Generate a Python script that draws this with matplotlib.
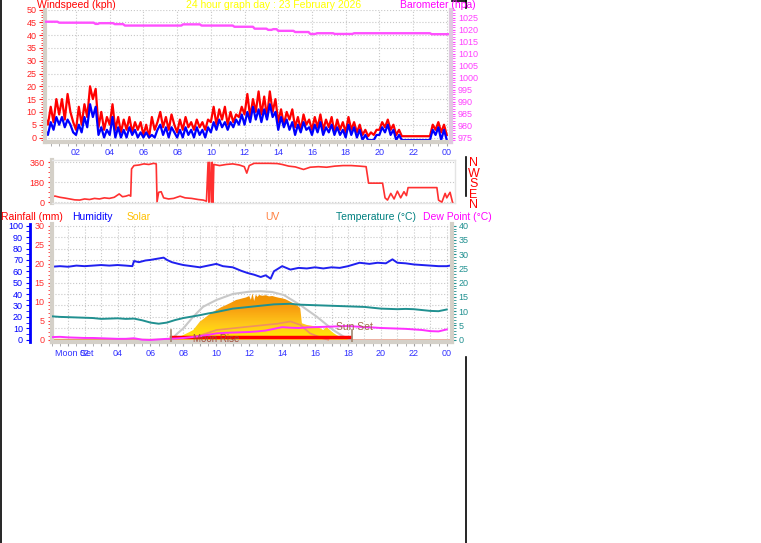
import numpy as np
import matplotlib.pyplot as plt
from matplotlib.colors import LinearSegmentedColormap
from matplotlib.lines import Line2D
from matplotlib.ticker import MultipleLocator

plt.rcParams['font.family'] = ['Liberation Sans', 'DejaVu Sans']

W, H = 761, 543

# ---- wind (kph), 10 minute samples from 00:00 ----
wind_t = np.arange(145) / 6.0
gust = [3, 8, 5, 12, 6, 15,
        9, 15, 7, 17, 10, 6,
        3, 12, 5, 13, 8, 20,
        15, 19, 4, 10, 3, 8,
        5, 13, 3, 8, 2, 7,
        3, 8, 2, 6, 3, 6,
        1, 5, 0, 8, 3, 6,
        10, 4, 8, 3, 9, 5,
        2, 7, 3, 8, 4, 6,
        3, 7, 4, 6, 3, 7,
        6, 12, 5, 11, 7, 12,
        5, 10, 6, 9, 8, 12,
        9, 17, 8, 15, 10, 18,
        9, 16, 8, 18, 10, 15,
        6, 11, 5, 10, 7, 11,
        4, 8, 3, 9, 5, 7,
        3, 8, 4, 9, 3, 7,
        4, 8, 2, 7, 3, 6,
        2, 8, 3, 6, 2, 5,
        1, 3, 0.5, 2, 1, 3,
        3, 6, 4, 7, 3, 5,
        1, 3, 0.5, 0.5, 0.5, 0.5,
        0.5, 0.5, 0.5, 0.5, 0.5, 0.5,
        0.5, 5, 3, 6, 2, 5,
        1]
avg = [0, 3, 1, 6, 3, 8,
       5, 8, 4, 7, 5, 2,
       1, 5, 2, 8, 4, 13,
       8, 12, 1, 4, 0, 3,
       1, 8, 0, 4, 0, 3,
       0, 4, 1, 3, 0, 2,
       0, 2, 0, 1, 0, 3,
       5, 1, 4, 0, 4, 2,
       0, 3, 0, 4, 1, 3,
       0, 4, 1, 3, 0, 4,
       2, 6, 3, 7, 4, 6,
       3, 6, 4, 7, 5, 9,
       5, 10, 6, 12, 7, 11,
       6, 11, 7, 13, 8, 10,
       3, 8, 4, 7, 3, 6,
       1, 5, 2, 6, 3, 4,
       1, 5, 2, 6, 1, 4,
       2, 5, 1, 4, 1, 3,
       0, 5, 1, 4, 0, 3,
       -1, 1, -1, -1, -1, 1,
       1, 4, 2, 5, 1, 3,
       -1, 1, -1, -1, -1, -1,
       -1, -1, -1, -1, -1, -1,
       -1, 3, 1, 4, -1, 3,
       -1]

# ---- barometer (hPa) ----
baro_t = [0.0, 0.9, 1.0, 3.05, 3.15, 3.3, 3.4, 4.2, 4.3, 4.8, 4.9, 8.25, 8.35, 9.35, 9.45,
          11.3, 11.4, 12.5, 12.6, 13.3, 13.4, 13.6, 13.7, 13.9, 14.0, 14.9, 15.0, 15.8,
          15.9, 16.2, 16.3, 17.25, 17.35, 18.4, 18.5, 23.0, 23.1, 24.3]
baro = [1023.3, 1023.3, 1022.9, 1022.9, 1022.4, 1022.4, 1022.7, 1022.7, 1022.3, 1022.3,
        1021.7, 1021.7, 1022.2, 1022.2, 1021.7, 1021.7, 1021.2, 1021.2, 1020.4, 1020.4,
        1019.9, 1019.9, 1020.2, 1020.2, 1019.5, 1019.5, 1019.0, 1019.0, 1018.2, 1018.2,
        1018.5, 1018.5, 1018.2, 1018.2, 1018.5, 1018.5, 1018.1, 1018.1]

# ---- wind direction (deg) ----
dir_t = [0.0, 0.2, 0.5, 0.8, 1.1, 1.4, 1.7, 2.0, 2.3, 2.6, 2.9, 3.2, 3.5, 3.8, 4.1, 4.3, 4.5,
         4.7, 4.8, 4.85, 5.0, 5.3, 5.6, 5.9, 6.2, 6.35, 6.4, 6.5, 6.65, 6.8, 7.1, 7.4, 7.8,
         8.1, 8.5, 8.9, 9.2, 9.4, 9.5, 9.55, 9.6, 9.7, 9.75, 9.8, 9.85, 10.2, 10.6, 11.0,
         11.4, 11.7, 11.85, 12.0, 12.3, 12.7, 13.2, 13.7, 14.0, 14.4, 14.8, 15.3, 15.7, 16.2,
         16.7, 17.2, 17.7, 18.2, 18.7, 19.1, 19.25, 20.1, 20.25, 20.4, 20.6, 20.8, 21.0,
         21.2, 21.4, 21.55, 21.65, 23.4, 23.5, 23.7, 23.9, 24.0, 24.2, 24.35]
dir_deg = [50, 56, 45, 38, 30, 22, 20, 30, 25, 35, 30, 40, 35, 45, 75, 50, 55,
           65, 55, 300, 330, 335, 345, 340, 350, 345, 5, 90, 95, 40, 30, 35, 55,
           40, 35, 25, 20, 10, 360, 0, 360, 0, 360, 0, 340, 330, 340, 345,
           335, 320, 262, 330, 350, 350, 350, 348, 340, 325, 318, 295, 315, 320,
           315, 325, 330, 330, 325, 320, 172, 172, 40, 20, 80, 30, 100,
           40, 95, 60, 132, 132, 20, 0, 80, 40, 90, 0]

# ---- humidity (%) ----
hum_t = [0.0, 0.5, 1.0, 1.5, 2.0, 2.5, 3.0, 3.5, 4.0, 4.5, 4.9, 5.0, 5.3, 5.7, 6.0, 6.4, 6.8,
         7.0, 7.3, 7.7, 8.0, 8.5, 9.0, 9.5, 10.0, 10.4, 11.0, 11.5, 11.9, 12.3, 12.7, 13.0,
         13.3, 13.5, 14.0, 14.5, 15.0, 15.5, 16.0, 16.5, 17.0, 17.5, 18.0, 18.7, 19.3, 19.8,
         20.3, 20.7, 21.0, 21.5, 22.0, 22.5, 23.0, 23.5, 24.0, 24.2]
hum = [64, 64.5, 64, 65, 64.5, 65, 65.5, 65, 65.5, 65, 64.5, 69, 68, 69.5, 70, 71, 72,
       70, 68, 66.5, 65.5, 64.5, 63.5, 65, 66.5, 64.5, 63.5, 60.5, 58.5, 57, 55, 56.5,
       53.5, 60, 64.5, 61.5, 63, 62.5, 63.5, 62.5, 63.5, 63, 64.5, 67.5, 66.5, 67.5,
       67, 70.5, 67.5, 67, 66, 65.5, 65, 64.5, 64.5, 65]

# ---- temperature / dew point (C), half-hourly ----
th_t = np.arange(49) * 0.5
temp = [8.2, 8.0, 7.9, 7.8, 7.7, 7.6, 7.3, 7.4, 7.5, 7.3, 7.4, 6.8,
        6.0, 5.6, 6.0, 6.9, 7.6, 8.1, 8.6, 9.2, 9.7, 10.3, 10.9, 11.2, 11.5, 11.8, 12.1,
        12.4, 12.5, 12.6, 12.3, 12.2, 12.1, 12.0, 11.9, 11.8, 11.7, 11.6, 11.5, 11.2,
        10.9, 10.8, 10.7, 10.8, 10.7, 10.4, 10.1, 10.0, 10.6]
dew = [0.9, 1.0, 0.8, 0.7, 0.6, 0.6, 0.5, 0.4, 0.3, 0.3, 0.5, 0.0, -0.1, 0.1, 0.3,
       0.4, 0.6, 0.9, 1.2, 1.7, 2.2, 2.4, 2.5, 2.6, 2.7, 2.9, 3.2, 3.8, 4.4, 4.2, 4.1,
       4.3, 4.4, 4.5, 4.6, 4.7, 4.8, 4.6, 4.4, 4.3, 4.1, 4.0, 3.9, 3.8, 3.6, 3.4, 3.0,
       2.9, 3.6]

# ---- solar (W/m2), clear sky curve, UV ----
solar_t = [7.2, 7.6, 8.0, 8.3, 8.6, 9.0, 9.4, 9.7, 10.0, 10.3, 10.6, 10.9, 11.2, 11.4, 11.6,
           11.8, 12.0, 12.1, 12.2, 12.3, 12.4, 12.5, 12.6, 12.8, 13.0, 13.2, 13.4, 13.6,
           13.8, 14.0, 14.2, 14.5, 14.8, 15.0, 15.1, 15.2, 15.5, 15.8, 16.1, 16.3, 16.5,
           16.7, 16.9, 17.1, 17.3, 17.5, 17.7, 17.9, 18.1]
solar = [0, 15, 41, 62, 85, 158, 202, 235, 260, 285, 304, 325, 348, 355, 363,
         370, 383, 350, 405, 340, 395, 375, 392, 385, 390, 380, 383, 375,
         368, 363, 355, 333, 310, 290, 275, 144, 129, 122, 114, 100, 85,
         112, 85, 60, 41, 25, 12, 5, 0]
clear_t = [7.28, 7.6, 8.0, 8.6, 9.2, 10.0, 11.0, 12.0, 12.7, 13.4, 14.1, 15.1, 16.1, 17.1, 17.7, 18.2]
clear = [0, 50, 100, 202, 289, 348, 401, 421, 425, 418, 392, 304, 202, 85, 30, 0]
uv_t = [8.6, 9.5, 10.0, 11.0, 12.0, 13.0, 13.7, 14.5, 15.1, 15.7, 16.5, 16.8]
uv = [0.2, 0.6, 0.85, 1.0, 1.15, 1.3, 1.4, 1.6, 1.3, 0.55, 0.1, 0]

sunrise, sunset = 7.24, 18.25

hour_ticks = list(range(2, 25, 2))
hour_labels = ['%02d' % (h % 24) for h in hour_ticks]

GRAY = '#D4D0C8'
GRID = '#C8C8C8'
TICKBLUE = '#3030FF'
TS = 6.5  # tick label size
HS = 7.5  # header size

fig = plt.figure(figsize=(W / 100, H / 100), dpi=100)


def add_ax(x0, y0, x1, y1):
    return fig.add_axes([x0 / W, 1 - y1 / H, (x1 - x0) / W, (y1 - y0) / H])


def ftext(x, y, s, **kw):
    fig.text(x / W, 1 - y / H, s, **kw)


# frame lines
for xs, ys in [([0.7, 0.7], [0, H]), ([465.5, 465.5], [0, 8]), ([465.5, 465.5], [157, 196]),
               ([465.5, 465.5], [357, H]), ([452, 465.5], [0.5, 0.5])]:
    fig.add_artist(Line2D([x / W for x in xs], [1 - y / H for y in ys],
                          transform=fig.transFigure, color='black', lw=1.2))

# ================= panel 1: wind + barometer =================
ax1 = add_ax(45, 9.5, 451, 141.7)
ax1.set_xlim(0.16, 24.25)
ax1.set_ylim(-1.64, 50)
ax1.grid(True, which='major', color=GRID, ls=':', lw=0.8)
ax1.plot(wind_t, gust, color='#FF0000', lw=1.6)
ax1.plot(wind_t, avg, color='#0000FF', lw=1.6)
ax1.set_xticks(hour_ticks)
ax1.set_xticklabels(hour_labels)
ax1.xaxis.set_minor_locator(MultipleLocator(0.5))
ax1.set_yticks(range(0, 51, 5))
ax1.yaxis.set_minor_locator(MultipleLocator(1))
ax1.tick_params(axis='x', which='both', colors='#A0A0A0', labelcolor=TICKBLUE, labelsize=TS,
                length=3, pad=1.5)
ax1.tick_params(axis='y', which='both', colors='#FF2020', labelsize=TS, length=3, pad=2)
ax1.tick_params(axis='y', which='major', length=4)
for s in ['top', 'right']:
    ax1.spines[s].set_visible(False)
for s in ['left', 'bottom']:
    ax1.spines[s].set_color(GRAY)
    ax1.spines[s].set_linewidth(3)

axb = ax1.twinx()
axb.set_ylim(973.25, 1028.4)
axb.plot(baro_t, baro, color='#FF50FF', lw=1.7)
axb.set_yticks(range(975, 1026, 5))
axb.yaxis.set_minor_locator(MultipleLocator(1))
axb.tick_params(axis='y', which='both', colors='#FF40FF', labelsize=TS, length=3, pad=2)
for s in ['top', 'left', 'bottom']:
    axb.spines[s].set_visible(False)
axb.spines['right'].set_color('#E0C8E0')
axb.spines['right'].set_linewidth(3)

ftext(37, 7.5, 'Windspeed (kph)', color='#FF0000', fontsize=HS, va='baseline')
ftext(186, 7.5, '24 hour graph day : 23 February 2026', color='#FFFF00', fontsize=HS, va='baseline')
ftext(400, 7.5, 'Barometer (hpa)', color='#FF00FF', fontsize=HS, va='baseline')

# ================= panel 2: wind direction =================
ax2 = add_ax(51.7, 160, 455, 203.3)
ax2.set_xlim(0, 24.5)
ax2.set_ylim(-9, 380)
ax2.plot(dir_t, dir_deg, color='#FF3030', lw=1.2)
ax2.set_yticks([0, 180, 360])
ax2.yaxis.set_minor_locator(MultipleLocator(45))
ax2.set_xticks([])
ax2.grid(True, axis='y', color=GRID, ls=':', lw=0.8)
ax2.tick_params(axis='y', which='both', colors='#FF2020', labelsize=TS, length=3, pad=2)
for s in ['top', 'right', 'bottom']:
    ax2.spines[s].set_color('#E4E4E4')
    ax2.spines[s].set_linewidth(1)
ax2.spines['left'].set_color(GRAY)
ax2.spines['left'].set_linewidth(3)
for i, c in enumerate('NWSEN'):
    ftext(473.5, 163 + i * 10.6, c, color='#FF0000', fontsize=9, ha='center', va='center')

# ================= panel 3: rain / humidity / solar / temps =================
ax3 = add_ax(51.7, 224, 451.7, 342.3)
ax3.set_xlim(0, 24.3)
ax3.set_ylim(-2.3, 101.5)
ax3.grid(True, which='major', color=GRID, ls=':', lw=0.8)
ax3.set_xticks(range(1, 25))
ax3.set_xticklabels(['' if h % 2 else '%02d' % (h % 24) for h in range(1, 25)])
ax3.xaxis.set_minor_locator(MultipleLocator(0.5))
ax3.tick_params(axis='x', which='both', colors='#A0A0A0', labelcolor=TICKBLUE, labelsize=TS,
                length=3, pad=1.5)
ax3.set_yticks(range(0, 101, 10))
ax3.yaxis.set_minor_locator(MultipleLocator(5))
ax3.tick_params(axis='y', which='both', colors='#0000FF', labelsize=TS, length=3, pad=2)
ax3.spines['left'].set_position(('outward', 21.7 * 0.72))
ax3.spines['left'].set_color('#0000FF')
ax3.spines['left'].set_linewidth(2)
ax3.spines['top'].set_visible(False)
ax3.spines['right'].set_visible(False)
ax3.spines['bottom'].set_color(GRAY)
ax3.spines['bottom'].set_linewidth(3)

# baseline strip
ax3.fill_between([0, sunrise], -2.3, 0.8, color='#F8C040', lw=0)
ax3.plot([0, sunrise], [0.6, 0.6], color='#E0A060', lw=1)
ax3.fill_between([sunrise, 24.3], -2.3, 0.8, color='#F0B0A0', lw=0)
ax3.plot(hum_t, hum, color='#2020F0', lw=1.4)

# solar
axs = ax3.twinx()
axs.axis('off')
poly = axs.fill_between(solar_t, 0, solar, color='none', lw=0)
cmap = LinearSegmentedColormap.from_list('sol', ['#FFF000', '#FFC81A', '#F8A010', '#F09000'])
grad = np.linspace(0, 1, 128).reshape(-1, 1)
im = axs.imshow(grad, extent=[0, 24.3, 0, 410], aspect='auto', cmap=cmap, origin='lower',
                zorder=1)
im.set_clip_path(poly.get_paths()[0], transform=axs.transData)
axs.plot(clear_t, clear, color='#C8C8C8', lw=1.5, zorder=2)
axs.set_xlim(0, 24.3)
axs.set_ylim(-23, 1015)

axu = ax3.twinx()
axu.set_ylim(-0.23, 10.15)
axu.axis('off')
axu.plot(uv_t, uv, color='#F09060', lw=1.2)
axu.plot([sunrise, 18.1], [0.25, 0.25], color='#FF0000', lw=2.5)

# rainfall axis at the plot edge
axr = ax3.twinx()
axr.set_ylim(-0.69, 30.45)
axr.yaxis.set_ticks_position('left')
axr.set_yticks(range(0, 31, 5))
axr.yaxis.set_minor_locator(MultipleLocator(1))
axr.tick_params(axis='y', which='both', colors='#FF3030', labelsize=TS, length=3, pad=2)
for s in ['top', 'right', 'bottom']:
    axr.spines[s].set_visible(False)
axr.spines['left'].set_visible(True)
axr.spines['left'].set_color(GRAY)
axr.spines['left'].set_linewidth(3)

# temperature
axt = ax3.twinx()
axt.set_ylim(-0.92, 40.6)
axt.plot(th_t, temp, color='#209090', lw=1.4)
axt.plot(th_t, dew, color='#FF30FF', lw=1.4)
axt.set_yticks(range(0, 41, 5))
axt.yaxis.set_minor_locator(MultipleLocator(1))
axt.tick_params(axis='y', which='both', colors='#209090', labelsize=TS, length=3, pad=2)
for s in ['top', 'left', 'bottom']:
    axt.spines[s].set_visible(False)
axt.spines['right'].set_color(GRAY)
axt.spines['right'].set_linewidth(3)
for h in (sunrise, sunset):
    axt.axvline(h, ymin=0, ymax=0.1, color='#A08870', lw=1.2)

ftext(193, 339, 'Moon Rise', color='#A05040', fontsize=7, va='center')
ftext(336, 326.7, 'Sun Set', color='#A06848', fontsize=7.5, va='center')
ftext(55, 353, 'Moon Set', color=TICKBLUE, fontsize=TS, va='center')

ftext(1, 220, 'Rainfall (mm)', color='#FF0000', fontsize=HS, va='baseline')
ftext(72, 220, 'Humidity', color='#0000FF', fontsize=HS, va='baseline')
ftext(127, 220, 'Solar', color='#FFC000', fontsize=HS, va='baseline')
ftext(265, 220, 'UV', color='#FF8040', fontsize=HS, va='baseline')
ftext(336, 220, 'Temperature (\u00b0C)', color='#008080', fontsize=HS, va='baseline')
ftext(423, 220, 'Dew Point (\u00b0C)', color='#FF00FF', fontsize=HS, va='baseline')

fig.savefig('out.png', dpi=100)
